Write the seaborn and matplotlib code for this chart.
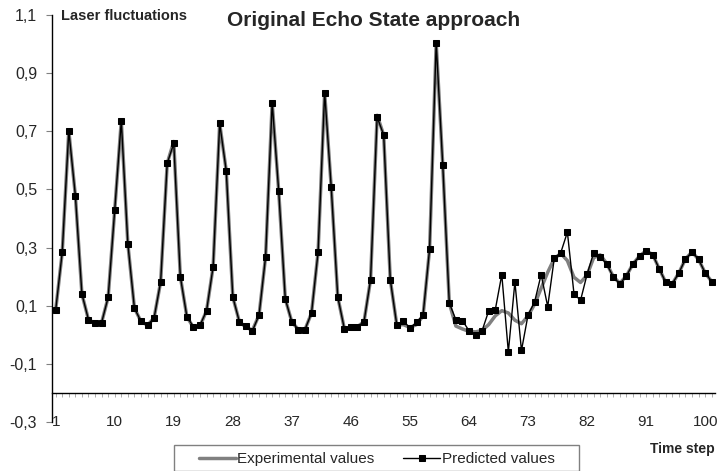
import matplotlib
matplotlib.use('Agg')
import matplotlib.pyplot as plt
import matplotlib.patches as mpatches
import pandas as pd
import seaborn as sns

# valores (101 passos de tempo)
time_step = list(range(1, 102))

predicted = [
    0.085, 0.284, 0.702, 0.479, 0.140, 0.052, 0.040, 0.042, 0.129, 0.429,
    0.736, 0.313, 0.092, 0.046, 0.033, 0.058, 0.182, 0.590, 0.658, 0.200,
    0.062, 0.028, 0.033, 0.083, 0.234, 0.727, 0.564, 0.130, 0.045, 0.030,
    0.014, 0.068, 0.269, 0.798, 0.493, 0.123, 0.044, 0.018, 0.018, 0.075,
    0.285, 0.833, 0.508, 0.130, 0.021, 0.028, 0.028, 0.045, 0.190, 0.749,
    0.687, 0.190, 0.033, 0.049, 0.022, 0.044, 0.068, 0.296, 1.004, 0.585,
    0.109, 0.052, 0.049, 0.014, 0.000, 0.014, 0.082, 0.085, 0.207, -0.059,
    0.182, -0.054, 0.068, 0.113, 0.207, 0.097, 0.263, 0.283, 0.353, 0.142,
    0.118, 0.208, 0.282, 0.269, 0.243, 0.199, 0.175, 0.203, 0.244, 0.271,
    0.289, 0.276, 0.227, 0.180, 0.176, 0.213, 0.261, 0.285, 0.259, 0.213,
    0.183,
]

experimental = [
    0.085, 0.284, 0.702, 0.479, 0.140, 0.052, 0.040, 0.042, 0.129, 0.429,
    0.736, 0.313, 0.092, 0.046, 0.033, 0.058, 0.182, 0.590, 0.665, 0.200,
    0.062, 0.025, 0.030, 0.083, 0.234, 0.727, 0.564, 0.130, 0.045, 0.026,
    0.016, 0.068, 0.269, 0.798, 0.493, 0.123, 0.044, 0.018, 0.018, 0.075,
    0.285, 0.833, 0.508, 0.130, 0.021, 0.026, 0.028, 0.045, 0.190, 0.755,
    0.687, 0.190, 0.033, 0.035, 0.025, 0.035, 0.065, 0.296, 1.004, 0.585,
    0.109, 0.030, 0.020, 0.012, 0.010, 0.015, 0.035, 0.065, 0.083, 0.075,
    0.050, 0.038, 0.065, 0.105, 0.160, 0.215, 0.262, 0.280, 0.255, 0.198,
    0.180, 0.205, 0.265, 0.275, 0.245, 0.200, 0.177, 0.203, 0.244, 0.271,
    0.289, 0.276, 0.227, 0.180, 0.176, 0.213, 0.261, 0.285, 0.259, 0.213,
    0.183,
]

y_ticks = [-0.3, -0.1, 0.1, 0.3, 0.5, 0.7, 0.9, 1.1]
x_labels = list(range(1, 101, 9))

df = pd.DataFrame({'step': time_step, 'exp': experimental, 'pred': predicted})

sns.set_style('white')
plt.rcParams['font.family'] = ['Liberation Sans', 'DejaVu Sans']

fig = plt.figure(figsize=(7.19, 4.71), dpi=100)
ax = fig.add_axes([52.4 / 719, (471 - 422) / 471, (715 - 52.4) / 719, (422 - 15) / 471])

sns.lineplot(data=df, x='step', y='exp', ax=ax, color='#808080', linewidth=2.5,
             label='Experimental values')
sns.lineplot(data=df, x='step', y='pred', ax=ax, color='black', linewidth=1.0,
             marker='s', markersize=5, markeredgecolor='black',
             label='Predicted values')

ax.set_xlim(0.5, 101.5)
ax.set_ylim(-0.3, 1.1)
ax.set_xlabel('')
ax.set_ylabel('')

# eixo y
ax.set_yticks(y_ticks)
ax.set_yticklabels([f'{v:.1f}'.replace('.', ',') for v in y_ticks], fontsize=11.5)
ax.tick_params(axis='y', left=True, direction='out', length=4, width=0.8,
               color='#808080', pad=7)

# eixo x cruza em -0,2 como no Excel
ax.spines['bottom'].set_position(('data', -0.2))
ax.spines['top'].set_visible(False)
ax.spines['right'].set_visible(False)
ax.spines['left'].set_color('black')
ax.spines['bottom'].set_color('black')
ax.spines['left'].set_linewidth(1.0)
ax.spines['bottom'].set_linewidth(1.0)
ax.set_xticks(time_step)
ax.set_xticklabels([str(s) if s in x_labels else '' for s in time_step], fontsize=11)
ax.tick_params(axis='x', bottom=True, direction='out', length=3, width=0.6,
               color='#a0a0a0', pad=13)

ax.legend_.remove()
fig.text(61 / 719, 1 - 16 / 471, 'Laser fluctuations', fontsize=10.5, fontweight='bold',
         ha='left', va='center')
fig.text(374 / 719, 1 - 20 / 471, 'Original Echo State approach', fontsize=15,
         fontweight='bold', ha='center', va='center')
fig.text(682 / 719, 1 - 449 / 471, 'Time step', fontsize=10, fontweight='bold',
         ha='center', va='center')

# caixa da legenda
box = mpatches.Rectangle((173.5 / 719, 0), (579 - 173.5) / 719, (471 - 445) / 471,
                         transform=fig.transFigure, facecolor='white',
                         edgecolor='#808080', linewidth=1.0)
fig.patches.append(box)
h, l = ax.get_legend_handles_labels()
fig.legend(h, l, loc='center left', bbox_to_anchor=(199 / 719, 1 - 459 / 471), ncol=2,
           frameon=False, fontsize=11, handlelength=2.4, handletextpad=0.1,
           columnspacing=1.9, borderpad=0, borderaxespad=0)

fig.savefig('out.png', dpi=100)
